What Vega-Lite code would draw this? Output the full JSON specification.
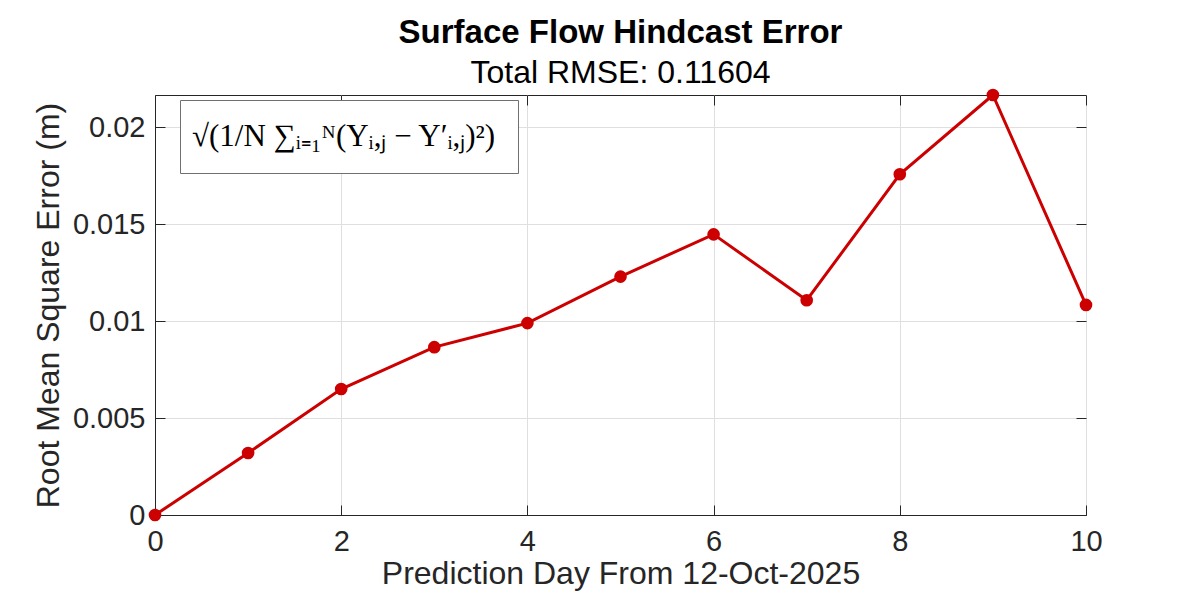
{
  "$schema": "https://vega.github.io/schema/vega-lite/v6.json",
  "autosize": {"type": "none"},
  "width": 931,
  "height": 420,
  "padding": {"left": 155, "top": 95, "right": 114, "bottom": 85},
  "background": "white",
  "title": {
    "text": "Surface Flow Hindcast Error",
    "subtitle": "Total RMSE: 0.11604",
    "anchor": "middle",
    "frame": "group",
    "font": "Liberation Sans",
    "fontSize": 33,
    "fontWeight": "bold",
    "color": "#000000",
    "subtitleFont": "Liberation Sans",
    "subtitleFontSize": 32,
    "subtitleColor": "#000000",
    "subtitlePadding": 8,
    "offset": 0
  },
  "config": {
    "view": {"stroke": "#262626", "strokeWidth": 1},
    "axis": {
      "labelFont": "Liberation Sans",
      "titleFont": "Liberation Sans",
      "labelFontSize": 29,
      "titleFontSize": 32,
      "titleFontWeight": "normal",
      "labelColor": "#262626",
      "titleColor": "#262626",
      "domainColor": "#262626",
      "tickColor": "#262626",
      "tickSize": -10,
      "labelFlush": false,
      "gridColor": "#dfdfdf",
      "gridWidth": 1
    }
  },
  "data": {
    "values": [
      {"day": 0, "rmse": 0.0, "series": "√(1/N ∑ᵢ₌₁ᴺ(Yᵢ,ⱼ − Y′ᵢ,ⱼ)²)"},
      {"day": 1, "rmse": 0.0032, "series": "√(1/N ∑ᵢ₌₁ᴺ(Yᵢ,ⱼ − Y′ᵢ,ⱼ)²)"},
      {"day": 2, "rmse": 0.0065, "series": "√(1/N ∑ᵢ₌₁ᴺ(Yᵢ,ⱼ − Y′ᵢ,ⱼ)²)"},
      {"day": 3, "rmse": 0.00866, "series": "√(1/N ∑ᵢ₌₁ᴺ(Yᵢ,ⱼ − Y′ᵢ,ⱼ)²)"},
      {"day": 4, "rmse": 0.0099, "series": "√(1/N ∑ᵢ₌₁ᴺ(Yᵢ,ⱼ − Y′ᵢ,ⱼ)²)"},
      {"day": 5, "rmse": 0.0123, "series": "√(1/N ∑ᵢ₌₁ᴺ(Yᵢ,ⱼ − Y′ᵢ,ⱼ)²)"},
      {"day": 6, "rmse": 0.01448, "series": "√(1/N ∑ᵢ₌₁ᴺ(Yᵢ,ⱼ − Y′ᵢ,ⱼ)²)"},
      {"day": 7, "rmse": 0.01108, "series": "√(1/N ∑ᵢ₌₁ᴺ(Yᵢ,ⱼ − Y′ᵢ,ⱼ)²)"},
      {"day": 8, "rmse": 0.01758, "series": "√(1/N ∑ᵢ₌₁ᴺ(Yᵢ,ⱼ − Y′ᵢ,ⱼ)²)"},
      {"day": 9, "rmse": 0.02167, "series": "√(1/N ∑ᵢ₌₁ᴺ(Yᵢ,ⱼ − Y′ᵢ,ⱼ)²)"},
      {"day": 10, "rmse": 0.01084, "series": "√(1/N ∑ᵢ₌₁ᴺ(Yᵢ,ⱼ − Y′ᵢ,ⱼ)²)"}
    ]
  },
  "layer": [
    {
      "mark": {"type": "point", "opacity": 0},
      "encoding": {
        "x": {"field": "day", "type": "quantitative", "scale": {"domain": [0, 10], "nice": false},
              "axis": {"orient": "top", "values": [0, 2, 4, 6, 8, 10], "labels": false, "title": null, "grid": false, "domain": false}},
        "y": {"field": "rmse", "type": "quantitative", "scale": {"domain": [0, 0.02167], "nice": false},
              "axis": {"orient": "right", "values": [0, 0.005, 0.01, 0.015, 0.02], "labels": false, "title": null, "grid": false, "domain": false}}
      }
    },
    {
      "mark": {"type": "line", "strokeWidth": 3, "point": {"filled": true, "size": 160, "color": "#cc0000", "opacity": 1}},
      "encoding": {
        "x": {"field": "day", "type": "quantitative",
              "axis": {"orient": "bottom", "values": [0, 2, 4, 6, 8, 10], "title": "Prediction Day From 12-Oct-2025", "grid": true, "labelPadding": 22, "titlePadding": 2}},
        "y": {"field": "rmse", "type": "quantitative",
              "axis": {"orient": "left", "values": [0, 0.005, 0.01, 0.015, 0.02], "labelExpr": "'' + datum.value", "title": "Root Mean Square Error (m)", "grid": true, "labelPadding": 20, "titlePadding": 7}},
        "color": {"field": "series", "type": "nominal", "scale": {"range": ["#cc0000"]},
                  "legend": {"title": null, "orient": "none", "legendX": 25, "legendY": 5, "strokeColor": "#707070", "fillColor": "white", "padding": 21, "symbolOpacity": 0, "symbolSize": 0, "symbolStrokeWidth": 0, "labelFont": "Liberation Serif", "labelFontSize": 31, "labelColor": "#000000", "labelLimit": 500, "labelOffset": -40}}
      }
    }
  ],
  "resolve": {"axis": {"x": "independent", "y": "independent"}}
}
